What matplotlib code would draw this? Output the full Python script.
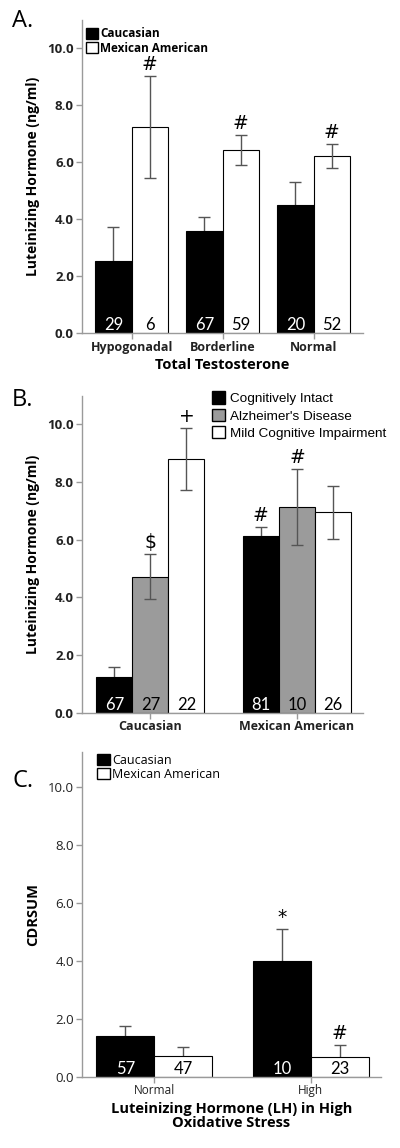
import numpy as np
import matplotlib
matplotlib.use('Agg')
import matplotlib.pyplot as plt
from matplotlib.patches import Patch

plt.rcParams['font.family'] = ['Open Sans', 'DejaVu Sans']

# panel A: LH by total testosterone
a_groups = ['Hypogonadal', 'Borderline', 'Normal']
a_cauc = [2.54, 3.59, 4.48]
a_cauc_err = [1.19, 0.48, 0.81]
a_mex = [7.22, 6.43, 6.22]
a_mex_err = [1.79, 0.52, 0.42]
a_cauc_n = ['29', '67', '20']
a_mex_n = ['6', '59', '52']
a_mex_mark = ['#', '#', '#']

# panel B: LH by cognitive status
b_groups = ['Caucasian', 'Mexican American']
b_intact = [1.24, 6.12]
b_intact_err = [0.33, 0.32]
b_ad = [4.72, 7.13]
b_ad_err = [0.79, 1.31]
b_mci = [8.80, 6.95]
b_mci_err = [1.08, 0.93]
b_intact_n = ['67', '81']
b_ad_n = ['27', '10']
b_mci_n = ['22', '26']
b_intact_mark = ['', '#']
b_ad_mark = ['$', '#']
b_mci_mark = ['+', '']

# panel C: CDRSUM by LH in high oxidative stress
c_groups = ['Normal', 'High']
c_cauc = [1.40, 4.00]
c_cauc_err = [0.36, 1.09]
c_mex = [0.71, 0.68]
c_mex_err = [0.30, 0.40]
c_cauc_n = ['57', '10']
c_mex_n = ['47', '23']
c_cauc_mark = ['', '*']
c_mex_mark = ['', '#']

SPINE = '#9a9a9a'
ERR = '#555555'
TXT = '#222222'


def style_axes(ax, ylim, bold=True):
    ax.set_ylim(*ylim)
    ax.set_yticks([0, 2, 4, 6, 8, 10])
    ax.set_yticklabels(['0.0', '2.0', '4.0', '6.0', '8.0', '10.0'])
    for s in ['top', 'right']:
        ax.spines[s].set_visible(False)
    for s in ['left', 'bottom']:
        ax.spines[s].set_color(SPINE)
        ax.spines[s].set_linewidth(1.0)
    ax.tick_params(axis='both', colors=SPINE, length=4, width=1,
                   labelcolor=TXT, pad=1.5)
    ax.tick_params(axis='y', labelsize=9.5)
    ax.tick_params(axis='x', labelsize=9 if bold else 8.5)
    w = 'bold' if bold else 'normal'
    for lab in ax.get_xticklabels() + ax.get_yticklabels():
        lab.set_fontweight(w)


def draw_series(ax, x, vals, errs, color, counts, marks, width, behind=False):
    ax.bar(x, vals, width, color=color, edgecolor='black', linewidth=0.8, zorder=2)
    # error bars behind the bar show only their upper half
    ez = 1 if (behind or color == 'black') else 3
    ax.errorbar(x, vals, yerr=errs, fmt='none', ecolor=ERR, elinewidth=1,
                capsize=4.5, capthick=1, zorder=ez)
    tc = 'white' if color == 'black' else 'black'
    for xi, n in zip(x, counts):
        ax.annotate(n, (xi, 0), xytext=(0, 2), textcoords='offset points',
                    ha='center', va='baseline', fontsize=12, color=tc,
                    family='Lato', zorder=4)
    for xi, v, e, m in zip(x, vals, errs, marks):
        if m:
            ax.annotate(m, (xi, v + e), xytext=(0, 1.5), textcoords='offset points',
                        ha='center', va='bottom', fontsize=13.5, color='black',
                        family='DejaVu Sans', zorder=4)


fig = plt.figure(figsize=(4, 11.48), dpi=100)

# ---- A ----
axA = fig.add_axes([0.204, 0.7099, 0.703, 0.2731])
xa = np.arange(len(a_groups))
wa = 0.4
draw_series(axA, xa - wa / 2, a_cauc, a_cauc_err, 'black', a_cauc_n, ['', '', ''], wa)
draw_series(axA, xa + wa / 2, a_mex, a_mex_err, 'white', a_mex_n, a_mex_mark, wa)
axA.set_xlim(-0.55, 2.54)
axA.set_xticks(xa)
axA.set_xticklabels(a_groups)
style_axes(axA, (0, 11))
axA.set_ylabel('Luteinizing Hormone (ng/ml)', fontsize=10, fontweight='bold', labelpad=5)
axA.set_xlabel('Total Testosterone', fontsize=10.5, fontweight='bold', labelpad=3)
axA.legend(handles=[Patch(facecolor='black', edgecolor='black'),
                    Patch(facecolor='white', edgecolor='black')],
           labels=['Caucasian', 'Mexican American'],
           loc='upper left', bbox_to_anchor=(0.0, 0.99), frameon=False,
           handlelength=1.0, handleheight=1.0, handletextpad=0.2,
           labelspacing=0.1, borderaxespad=0.2, borderpad=0.2,
           prop={'size': 8.5, 'weight': 'bold'})
fig.text(0.03, 0.992, 'A.', fontsize=17, va='top', ha='left')

# ---- B ----
axB = fig.add_axes([0.204, 0.3792, 0.703, 0.2762])
xb = np.arange(len(b_groups))
wb = 0.246
draw_series(axB, xb - wb, b_intact, b_intact_err, 'black', b_intact_n, b_intact_mark, wb)
draw_series(axB, xb, b_ad, b_ad_err, '#9b9b9b', b_ad_n, b_ad_mark, wb)
draw_series(axB, xb + wb, b_mci, b_mci_err, 'white', b_mci_n, b_mci_mark, wb)
axB.set_xlim(-0.47, 1.45)
axB.set_xticks(xb)
axB.set_xticklabels(b_groups)
style_axes(axB, (0, 11))
axB.set_ylabel('Luteinizing Hormone (ng/ml)', fontsize=10, fontweight='bold', labelpad=5)
fig.legend(handles=[Patch(facecolor='black', edgecolor='black'),
                    Patch(facecolor='#9b9b9b', edgecolor='black'),
                    Patch(facecolor='white', edgecolor='black')],
           labels=['Cognitively Intact', "Alzheimer's Disease", 'Mild Cognitive Impairment'],
           loc='upper left', bbox_to_anchor=(0.53, 0.659), frameon=False,
           handlelength=1.0, handleheight=1.0, handletextpad=0.35,
           labelspacing=0.28, borderaxespad=0, borderpad=0,
           prop={'family': 'Liberation Sans', 'size': 9.7})
fig.text(0.03, 0.662, 'B.', fontsize=17, va='top', ha='left')

# ---- C ----
axC = fig.add_axes([0.204, 0.0621, 0.7485, 0.2829])
xc = np.arange(len(c_groups))
wc = 0.368
draw_series(axC, xc - wc / 2, c_cauc, c_cauc_err, 'black', c_cauc_n, c_cauc_mark, wc, behind=True)
draw_series(axC, xc + wc / 2, c_mex, c_mex_err, 'white', c_mex_n, c_mex_mark, wc, behind=True)
axC.set_xlim(-0.463, 1.447)
axC.set_xticks(xc)
axC.set_xticklabels(c_groups)
style_axes(axC, (0, 11.2), bold=False)
axC.set_ylabel('CDRSUM', fontsize=10.5, fontweight='bold', labelpad=6)
axC.set_xlabel('Luteinizing Hormone (LH) in High\nOxidative Stress', fontsize=10.5,
               fontweight='bold', labelpad=3, linespacing=1.0)
axC.legend(handles=[Patch(facecolor='black', edgecolor='black'),
                    Patch(facecolor='white', edgecolor='black')],
           labels=['Caucasian', 'Mexican American'],
           loc='upper left', bbox_to_anchor=(0.035, 1.01), frameon=False,
           handlelength=1.0, handleheight=1.0, handletextpad=0.2,
           labelspacing=0.1, borderaxespad=0.2, borderpad=0.2,
           prop={'size': 9})
fig.text(0.03, 0.33, 'C.', fontsize=17, va='top', ha='left')

fig.savefig('out.png', dpi=100, facecolor='white')
